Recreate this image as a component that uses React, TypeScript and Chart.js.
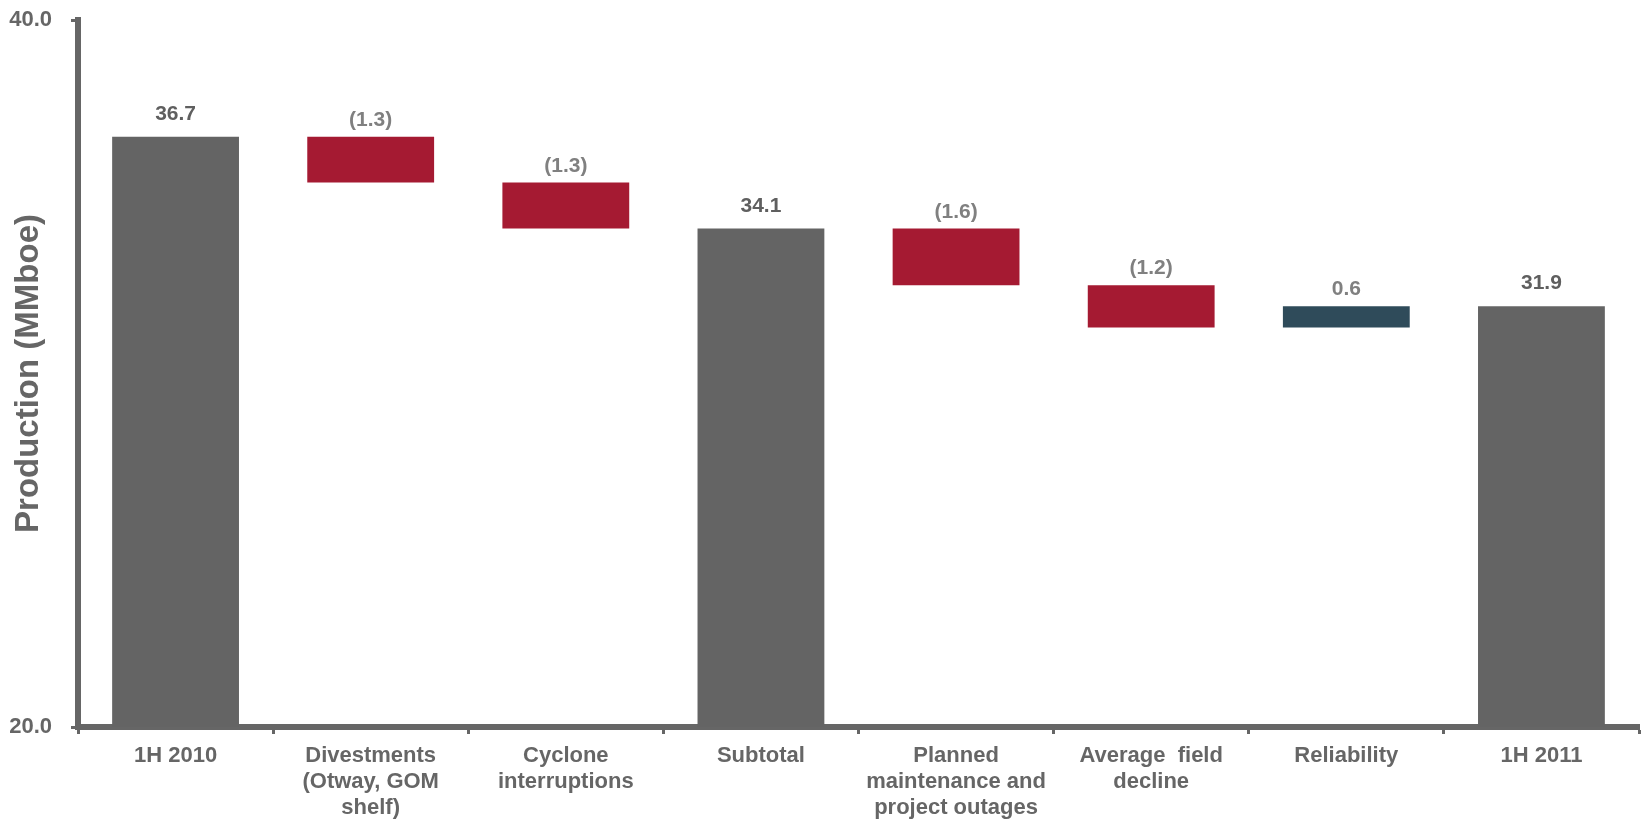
import React, { useEffect, useRef } from "react";
import { Chart, registerables } from "chart.js";

Chart.register(...registerables);

const categories: string[][] = [
  ["1H 2010"],
  ["Divestments", "(Otway, GOM", "shelf)"],
  ["Cyclone", "interruptions"],
  ["Subtotal"],
  ["Planned", "maintenance and", "project outages"],
  ["Average  field", "decline"],
  ["Reliability"],
  ["1H 2011"],
];

const barBase = [20, 35.4, 34.1, 20, 32.5, 31.3, 31.3, 20];
const barTop = [36.7, 36.7, 35.4, 34.1, 34.1, 32.5, 31.9, 31.9];
const valueLabels = ["36.7", "(1.3)", "(1.3)", "34.1", "(1.6)", "(1.2)", "0.6", "31.9"];
const barKinds = ["total", "decrease", "decrease", "total", "decrease", "decrease", "increase", "total"];

const yMin = 20;
const yMax = 40;
const yTickStep = 20;

const kindColor: Record<string, string> = {
  total: "#646464",
  decrease: "#A51A32",
  increase: "#2F4B5A",
};
const kindLabelColor: Record<string, string> = {
  total: "#5f5f5f",
  decrease: "#808080",
  increase: "#808080",
};

const FONT = '"Liberation Sans", Arial, Helvetica, sans-serif';
const AXIS = "#666666";

const valueLabelPlugin = {
  id: "valueLabels",
  afterDatasetsDraw(chart: any) {
    const ctx = chart.ctx;
    const meta = chart.getDatasetMeta(0);
    ctx.save();
    ctx.font = `bold 21px ${FONT}`;
    ctx.textAlign = "center";
    ctx.textBaseline = "alphabetic";
    meta.data.forEach((el: any, i: number) => {
      const top = Math.min(el.y, el.base);
      const kind = barKinds[i];
      const gap = kind === "total" ? 17 : 11;
      ctx.fillStyle = kindLabelColor[kind];
      ctx.fillText(valueLabels[i], el.x, top - gap);
    });
    ctx.restore();
  },
};

export default function App() {
  const ref = useRef<HTMLCanvasElement | null>(null);

  useEffect(() => {
    if (!ref.current) return;
    const chart = new Chart(ref.current, {
      type: "bar",
      data: {
        labels: categories,
        datasets: [
          {
            data: barBase.map((b, i) => [b, barTop[i]]) as any,
            backgroundColor: barKinds.map((k) => kindColor[k]),
            borderWidth: 0,
            barPercentage: 0.65,
            categoryPercentage: 1,
          },
        ],
      },
      options: {
        animation: false,
        responsive: true,
        maintainAspectRatio: false,
        layout: { padding: { top: 20, right: 2, left: 0, bottom: 0 } },
        plugins: {
          legend: { display: false },
          tooltip: { enabled: false },
        },
        scales: {
          x: {
            grid: {
              display: true,
              offset: true,
              drawOnChartArea: false,
              drawTicks: true,
              tickLength: 7,
              tickWidth: 3,
              tickColor: AXIS,
            },
            border: { display: true, width: 6, color: AXIS },
            ticks: {
              color: AXIS,
              font: { family: FONT, size: 22, weight: "bold", lineHeight: 1.18 },
              maxRotation: 0,
              minRotation: 0,
              autoSkip: false,
              padding: 9,
            },
            afterFit: (s: any) => {
              s.height = 100;
              s.paddingLeft = 0;
              s.paddingRight = 0;
            },
          },
          y: {
            min: yMin,
            max: yMax,
            grid: {
              display: true,
              drawOnChartArea: false,
              drawTicks: true,
              tickLength: 7,
              tickWidth: 3,
              tickColor: AXIS,
            },
            border: { display: true, width: 6, color: AXIS },
            ticks: {
              stepSize: yTickStep,
              color: AXIS,
              font: { family: FONT, size: 22, weight: "bold" },
              padding: 19,
              callback: (v: any) => Number(v).toFixed(1),
            },
            title: {
              display: true,
              text: "Production (MMboe)",
              color: AXIS,
              font: { family: FONT, size: 33, weight: "bold", lineHeight: 1.2 },
              padding: { top: 9, bottom: 0 },
            },
            afterFit: (s: any) => {
              s.width = 78;
              s.paddingTop = 0;
              s.paddingBottom = 0;
            },
          },
        },
      },
      plugins: [valueLabelPlugin],
    });
    return () => chart.destroy();
  }, []);

  return (
    <div style={{ position: "fixed", left: 0, top: 0, width: 1641, height: 827, background: "#fff" }}>
      <canvas ref={ref} />
    </div>
  );
}
